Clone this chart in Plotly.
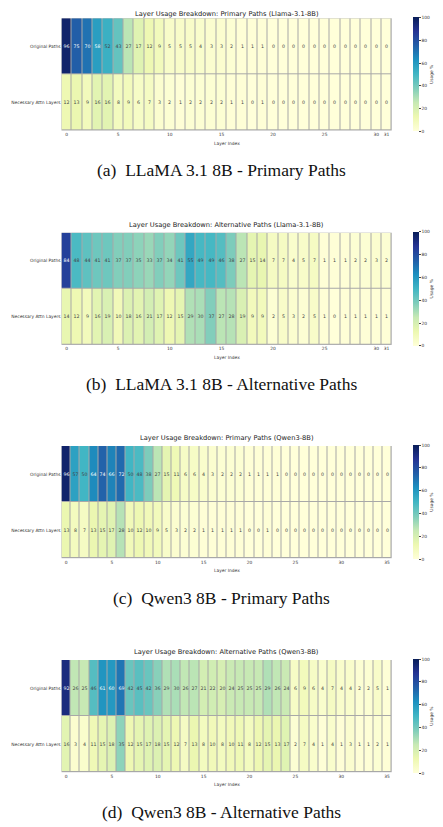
import plotly.graph_objects as go

# layer usage (%)
row_labels = ["Original Paths", "Necessary Attn Layers"]

llama_primary_orig = [96, 75, 70, 58, 52, 43, 27, 17, 12, 9, 5, 5, 5, 4, 3, 3,
                      2, 1, 1, 1, 0, 0, 0, 0, 0, 0, 0, 0, 0, 0, 0, 0]
llama_primary_nec = [12, 13, 9, 16, 16, 8, 9, 6, 7, 3, 2, 1, 2, 2, 2, 2,
                     1, 1, 0, 1, 0, 0, 0, 0, 0, 0, 0, 0, 0, 0, 0, 0]

llama_alt_orig = [84, 48, 44, 41, 41, 37, 37, 35, 33, 37, 34, 41, 55, 49, 49, 46,
                  38, 27, 15, 14, 7, 7, 4, 5, 7, 1, 1, 1, 2, 2, 3, 2]
llama_alt_nec = [14, 12, 9, 16, 19, 10, 18, 16, 21, 17, 12, 15, 29, 30, 37, 27,
                 28, 19, 9, 9, 2, 5, 3, 2, 5, 1, 0, 1, 1, 1, 1, 1]

qwen_primary_orig = [96, 57, 50, 64, 74, 66, 72, 50, 48, 38, 27, 15, 11, 6, 6, 4, 3, 2,
                     2, 2, 1, 1, 1, 1, 0, 0, 0, 0, 0, 0, 0, 0, 0, 0, 0, 0]
qwen_primary_nec = [13, 8, 7, 13, 15, 17, 28, 10, 12, 10, 9, 5, 3, 2, 2, 1, 1, 1,
                    1, 1, 0, 0, 1, 0, 0, 0, 0, 0, 0, 0, 0, 0, 0, 0, 0, 0]

qwen_alt_orig = [92, 26, 25, 46, 61, 60, 69, 42, 45, 42, 36, 29, 30, 26, 27, 21, 22, 20,
                 24, 25, 25, 25, 29, 26, 24, 6, 9, 6, 4, 7, 4, 4, 2, 2, 5, 1]
qwen_alt_nec = [16, 3, 4, 11, 15, 18, 35, 12, 15, 17, 18, 15, 12, 7, 13, 8, 10, 8,
                10, 11, 8, 12, 15, 13, 17, 2, 7, 4, 1, 4, 1, 3, 1, 1, 2, 1]

titles = [
    "Layer Usage Breakdown: Primary Paths (Llama-3.1-8B)",
    "Layer Usage Breakdown: Alternative Paths (Llama-3.1-8B)",
    "Layer Usage Breakdown: Primary Paths (Qwen3-8B)",
    "Layer Usage Breakdown: Alternative Paths (Qwen3-8B)",
]
captions = [
    "(a)  LLaMA 3.1 8B - Primary Paths",
    "(b)  LLaMA 3.1 8B - Alternative Paths",
    "(c)  Qwen3 8B - Primary Paths",
    "(d)  Qwen3 8B - Alternative Paths",
]
panels = [
    (llama_primary_orig, llama_primary_nec),
    (llama_alt_orig, llama_alt_nec),
    (qwen_primary_orig, qwen_primary_nec),
    (qwen_alt_orig, qwen_alt_nec),
]

W, H = 443, 827
OFF = 8  # page body margin shifts the plot by this much
YLGNBU = ["#ffffd9", "#edf8b1", "#c7e9b4", "#7fcdbb", "#41b6c4",
          "#1d91c0", "#225ea8", "#253494", "#081d58"]
colorscale = [[i / 8, c] for i, c in enumerate(YLGNBU)]
SANS = "DejaVu Sans"

# pixel geometry (screen px) of each panel: heatmap top / bottom
heat_tops = [18.3, 232.7, 446, 660]
heat_h = 112.2
x0_px, x1_px = 61.5, 391.7
cb_x_px = 412.7


def px_x(x):
    return (x - OFF) / W


def py(y):
    return 1 - (y - OFF) / H


fig = go.Figure()
annotations = []
layout = {}
for i, (orig, nec) in enumerate(panels):
    n = len(orig)
    k = "" if i == 0 else str(i + 1)
    top = heat_tops[i]
    bot = top + heat_h
    ticks = list(range(0, n, 5))
    if ticks[-1] != n - 1:
        ticks.append(n - 1)
    fig.add_trace(go.Heatmap(
        z=[orig, nec], x=list(range(n)), y=row_labels,
        xaxis="x" + k, yaxis="y" + k,
        colorscale=colorscale, zmin=0, zmax=100,
        xgap=1, ygap=1,
        texttemplate="%{z}", textfont=dict(size=4.7, family=SANS),
        hoverinfo="skip",
        colorbar=dict(
            x=px_x(cb_x_px), xanchor="left", xpad=0, ypad=0,
            y=py((top + bot) / 2), yanchor="middle",
            len=heat_h + 1.5, lenmode="pixels",
            thickness=6.3, thicknessmode="pixels",
            outlinewidth=0, ticks="outside", ticklen=2, tickwidth=0.5,
            tickcolor="#444", tickvals=[0, 20, 40, 60, 80, 100],
            tickfont=dict(size=4.4, family=SANS, color="#333"),
            title=dict(text="Usage %", side="right",
                       font=dict(size=4.4, family=SANS, color="#333")),
        ),
    ))
    layout["xaxis" + k] = dict(
        domain=[px_x(x0_px), px_x(x1_px)], anchor="y" + k, automargin=False,
        range=[-0.5, n - 0.5], tickvals=ticks, showgrid=False, zeroline=False,
        tickfont=dict(size=4.4, family=SANS, color="#333"), ticks="",
    )
    layout["yaxis" + k] = dict(
        domain=[py(bot), py(top)], anchor="x" + k, autorange="reversed",
        automargin=False, showgrid=False, zeroline=False, ticks="",
        tickfont=dict(size=4.4, family=SANS, color="#333"),
    )
    # top title of the first panel is pinned to the page edge
    title_y = min(py(top - 8), 1.0) if i else 1.0
    annotations.append(dict(
        text=titles[i], x=px_x((x0_px + x1_px) / 2), y=title_y,
        xref="paper", yref="paper", showarrow=False,
        yanchor="middle" if i else "top",
        font=dict(size=6.7, family=SANS, color="#222"),
    ))
    annotations.append(dict(
        text="Layer Index", x=px_x((x0_px + x1_px) / 2), y=py(bot + 12.5),
        xref="paper", yref="paper", showarrow=False, yanchor="middle",
        font=dict(size=4.4, family=SANS, color="#333"),
    ))
    annotations.append(dict(
        text=captions[i], x=px_x(221.5), y=py(bot + 39.5),
        xref="paper", yref="paper", showarrow=False, yanchor="middle",
        font=dict(size=17.5, family="Liberation Serif", color="#111"),
    ))

fig.update_layout(
    width=W, height=H,
    margin=dict(l=0, r=0, t=0, b=0, autoexpand=False),
    paper_bgcolor="white", plot_bgcolor="#a8a8a8",
    annotations=annotations,
    **layout,
)
fig.write_html("out.html")
